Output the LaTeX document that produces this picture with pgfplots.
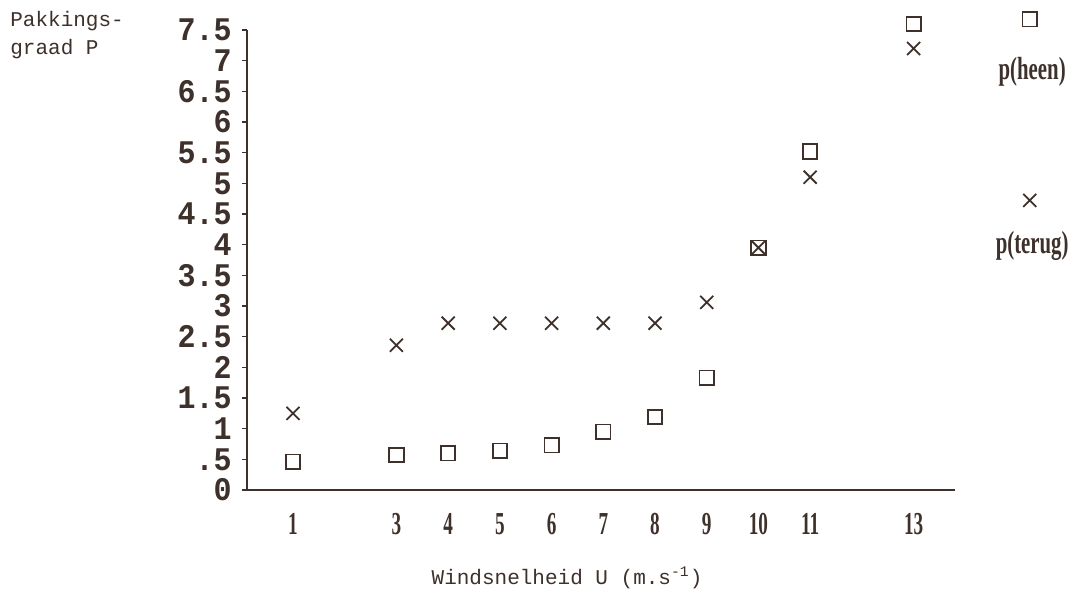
\documentclass[border=0pt]{standalone}
\usepackage{fontspec}
\setmainfont{Liberation Serif}
\setmonofont{Liberation Mono}
\usepackage{pgfplots}
\pgfplotsset{compat=1.18}
\usepackage{pgfplotstable}

\definecolor{ink}{RGB}{62,48,42}

\pgfplotstableread{
U P
1 0.46
3 0.57
4 0.60
5 0.64
6 0.73
7 0.95
8 1.19
9 1.83
10 3.95
11 5.52
13 7.60
}\heen

\pgfplotstableread{
U P
1 1.25
3 2.36
4 2.72
5 2.72
6 2.72
7 2.72
8 2.72
9 3.06
10 3.95
11 5.10
13 7.20
}\terug

\pgfplotsset{
  heen legend/.style={legend image code/.code={\draw[##1,overlay] plot coordinates {(17pt,25.5pt)};}},
  terug legend/.style={legend image code/.code={\draw[##1,overlay] plot coordinates {(17pt,21.5pt)};}},
}

\newcommand\monofont{\fontsize{10.5}{14}\selectfont\ttfamily}
\newcommand\ytickfont{\fontsize{15}{15}\selectfont\ttfamily\bfseries}
\newcommand\xtickfont{\fontsize{16}{16}\selectfont\bfseries}

\begin{document}
\begin{tikzpicture}
\path[use as bounding box] (-123.5pt,-50pt) rectangle (411pt,245pt);
\begin{axis}[
  at={(0,0)}, anchor=south west,
  scale only axis, width=354pt, height=230pt,
  xmin=0.11, xmax=13.8, ymin=0, ymax=7.5,
  clip=false,
  axis x line*=bottom, axis y line*=left,
  axis line style={ink, line width=1pt, -},
  xtick={1,3,4,5,6,7,8,9,10,11,13},
  xticklabels={1,3,4,5,6,7,8,9,10,11,13},
  xtick style={draw=none},
  ytick={0,0.5,...,7.5},
  yticklabels={0,.5,1,1.5,2,2.5,3,3.5,4,4.5,5,5.5,6,6.5,7,7.5},
  ytick style={ink, line width=0.8pt},
  tick align=outside, major tick length=2.5pt,
  yticklabel style={font=\ytickfont, text=ink, inner sep=0pt, anchor=east, xshift=-5pt, yscale=1.1},
  xticklabel style={font=\xtickfont, text=ink, inner sep=0pt, anchor=north, yshift=-9pt, xscale=0.6},
  xlabel={Windsnelheid U (m.s\textsuperscript{-1})},
  ylabel={Pakkings-\\graad P},
  every axis x label/.style={at={(rel axis cs:0.452,0)}, anchor=center, yshift=-44pt, font=\monofont, text=ink},
  every axis y label/.style={at={(rel axis cs:0,1)}, anchor=north west, xshift=-118.5pt, yshift=9.5pt, align=left, inner sep=0pt, font=\monofont, text=ink},
  legend style={draw=none, fill=none, at={(rel axis cs:1.109,0.9496)}, anchor=north,
    font=\xtickfont, text=ink, nodes={inner sep=0pt, xscale=0.65},
    row sep=74pt, /tikz/column sep=0pt},
  legend cell align=center,
]
\addplot[only marks, mark=square, mark size=3.6pt, ink, mark options={line width=0.9pt}, heen legend] table[x=U, y=P] {\heen};
\addlegendentry{p(heen)}
\addplot[only marks, mark=x, mark size=4.6pt, ink, mark options={line width=0.9pt}, terug legend] table[x=U, y=P] {\terug};
\addlegendentry{p(terug)}
\end{axis}
\end{tikzpicture}
\end{document}
